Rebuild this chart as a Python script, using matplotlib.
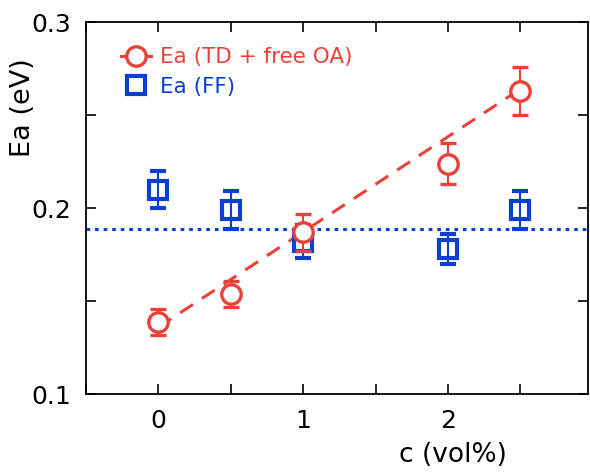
import matplotlib
matplotlib.use("Agg")
import matplotlib.pyplot as plt
import numpy as np
from matplotlib.ticker import MultipleLocator, FixedLocator
from matplotlib.lines import Line2D

c_vals = [0, 0.5, 1, 2, 2.5]
ea_td = [0.139, 0.154, 0.187, 0.224, 0.263]
ea_td_err = [0.007, 0.007, 0.010, 0.011, 0.013]
ea_ff = [0.210, 0.199, 0.182, 0.178, 0.199]
ea_ff_err = [0.010, 0.010, 0.009, 0.008, 0.010]
fit_x = [0, 2.5]
fit_y = [0.136, 0.264]
ff_mean = 0.189

red = "#e8413a"
blue = "#0a3fd0"

plt.rcParams['font.family'] = ['DejaVu Sans']
fig = plt.figure(figsize=(5.9, 4.73), dpi=100)
ax = fig.add_axes([0.146, 0.167, 0.851, 0.786])

ax.plot(fit_x, fit_y, color=red, lw=2.2, dashes=(5, 3.5))
ax.axhline(ff_mean, color=blue, lw=2.2, dashes=(1.2, 1.6))

ax.errorbar(c_vals, ea_td, yerr=ea_td_err, fmt='o', ms=14, mfc='white', mec=red,
            mew=2.4, ecolor=red, elinewidth=1.5, capsize=5.5, capthick=1.5, zorder=4)
ax.errorbar(c_vals, ea_ff, yerr=ea_ff_err, fmt='s', ms=13.5, mfc='none', mec=blue,
            mew=3, ecolor=blue, elinewidth=1.5, capsize=5.5, capthick=1.5, zorder=3)

ax.set_xlim(-0.5, 2.97)
ax.set_ylim(0.1, 0.3)
ax.xaxis.set_major_locator(FixedLocator([0, 1, 2]))
ax.xaxis.set_minor_locator(FixedLocator([-0.5, 0.5, 1.5, 2.5]))
ax.set_yticks([0.1, 0.2, 0.3])
ax.set_yticklabels(['0.1', '0.2', '0.3'])
ax.yaxis.set_minor_locator(MultipleLocator(0.05))
ax.tick_params(which='both', direction='in', top=True, right=True, width=1.2)
ax.tick_params(which='major', length=7, labelsize=18, pad=11)
ax.tick_params(which='minor', length=7)
for s in ax.spines.values():
    s.set_linewidth(1.3)

ax.set_ylabel('Ea (eV)', fontsize=19.5)
ax.yaxis.set_label_coords(-0.1, 0.77)
ax.set_xlabel('c (vol%)', fontsize=19)
ax.xaxis.set_label_coords(0.731, -0.13)

h1 = Line2D([], [], color=red, marker='o', ms=14, mfc='white', mec=red, mew=2.4, lw=2.2)
h2 = Line2D([], [], color=blue, marker='s', ms=13.5, mfc='none', mec=blue, mew=3, lw=0)
leg = ax.legend([h1, h2], ['Ea (TD + free OA)', 'Ea (FF)'], loc='upper left',
                bbox_to_anchor=(0.03, 0.985), frameon=False, fontsize=15.5,
                handlelength=1.4, handletextpad=0.45, labelspacing=0.45)
for t, col in zip(leg.get_texts(), [red, blue]):
    t.set_color(col)

fig.savefig('out.png', dpi=100)
